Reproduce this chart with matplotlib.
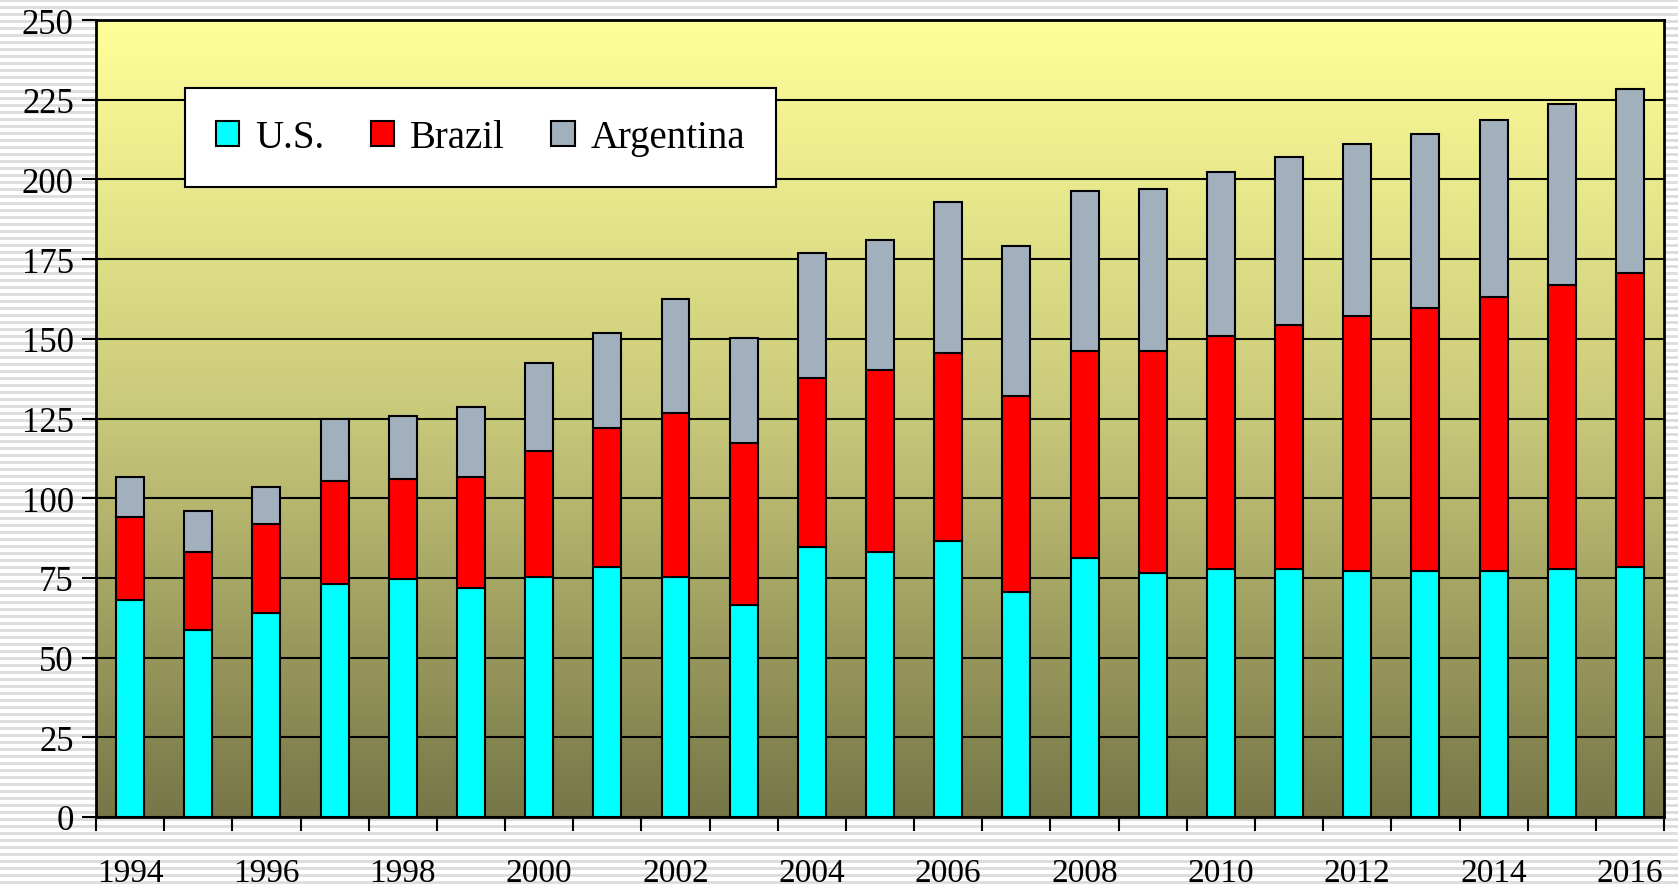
import numpy as np
import matplotlib.pyplot as plt

plt.rcParams['font.family'] = ['Liberation Serif', 'DejaVu Serif']

years = list(range(1994, 2017))
us = [68.1, 58.7, 64.1, 73.2, 74.5, 71.8, 75.2, 78.5, 75.2, 66.4, 84.6, 83.2,
      86.6, 70.5, 81.2, 76.5, 77.9, 77.9, 77.2, 77.2, 77.2, 77.9, 78.5]
us_brazil = [94.0, 83.2, 92.0, 105.4, 106.0, 106.7, 114.8, 122.1, 126.8, 117.4, 137.6, 140.3,
             145.6, 132.2, 146.3, 146.3, 151.0, 154.4, 157.0, 159.7, 163.1, 166.8, 170.5]
total = [106.7, 96.0, 103.4, 124.8, 125.8, 128.5, 142.3, 151.7, 162.4, 150.3, 176.8, 180.9,
         193.0, 179.2, 196.3, 197.0, 202.3, 207.0, 211.0, 214.4, 218.5, 223.8, 228.5]
brazil = np.array(us_brazil) - np.array(us)
argentina = np.array(total) - np.array(us_brazil)

fig = plt.figure(figsize=(16.78, 8.87), dpi=100)

# striped slide background
bg = fig.add_axes([0, 0, 1, 1], zorder=-10)
rows = np.arange(887)
stripe = np.where(rows % 7 < 3, 0.87, 1.0)
bg.imshow(np.repeat(stripe[:, None], 10, axis=1), cmap='gray', vmin=0, vmax=1,
          aspect='auto', interpolation='nearest')
bg.axis('off')

ax = fig.add_axes([0.0572, 0.0778, 0.9345, 0.8985])
x = np.arange(len(years))

# yellow-to-olive gradient fill
stops = np.array([[255, 255, 153], [200, 200, 122], [118, 118, 72]]) / 255.0
t = np.linspace(0, 1, 256)
grad = np.stack([np.interp(t, [0, 0.5, 1], stops[:, c]) for c in range(3)], axis=1)
ax.imshow(grad[:, None, :], extent=[-0.5, len(years) - 0.5, 0, 250], aspect='auto', zorder=0)

ax.set_axisbelow(True)
ax.yaxis.grid(True, color='black', linewidth=1.5)

w = 0.41
ax.bar(x, us, w, color='#00FFFF', edgecolor='black', linewidth=1.5, label='U.S.', zorder=2)
ax.bar(x, brazil, w, bottom=us, color='#FF0000', edgecolor='black', linewidth=1.5, label='Brazil', zorder=2)
ax.bar(x, argentina, w, bottom=us_brazil, color='#A2AFBD', edgecolor='black', linewidth=1.5,
       label='Argentina', zorder=2)

ax.set_xlim(-0.5, len(years) - 0.5)
ax.set_ylim(0, 250)
ax.set_yticks(range(0, 251, 25))
ax.set_xticks(x[::2])
ax.set_xticklabels([str(y) for y in years[::2]])
ax.set_xticks(np.arange(-0.5, len(years)), minor=True)
ax.tick_params(axis='x', which='major', length=0, pad=29, labelsize=24)
ax.tick_params(axis='x', which='minor', length=10, width=1.5, direction='out')
ax.tick_params(axis='y', length=10, width=1.5, pad=6, labelsize=25)
for s in ax.spines.values():
    s.set_linewidth(2)

leg = ax.legend(loc='upper left', bbox_to_anchor=(0.0568, 0.9147), ncol=3, fontsize=28,
                frameon=True, fancybox=False, framealpha=1, edgecolor='black',
                handlelength=0.6, handleheight=0.6, handletextpad=0.4,
                columnspacing=1.2, borderpad=0.8, borderaxespad=0)
leg.get_frame().set_linewidth(1.5)

fig.savefig('out.png', dpi=100)
